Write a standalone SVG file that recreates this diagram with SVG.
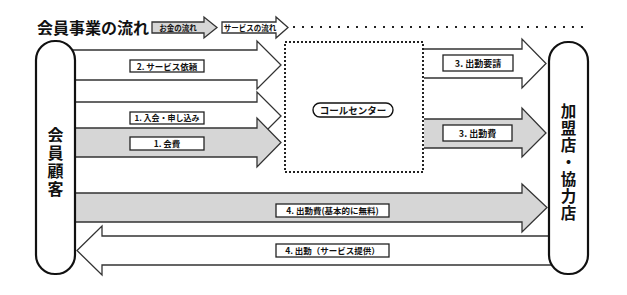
<svg xmlns="http://www.w3.org/2000/svg" width="627" height="295" viewBox="0 0 627 295">
<style>
.t{font-family:"Noto Sans CJK JP","Noto Sans",sans-serif;font-weight:bold;fill:#111}
.v{writing-mode:vertical-rl;text-orientation:upright}
.aw{fill:#fff;stroke:#333;stroke-width:1.3}
.ag{fill:#d6d6d6;stroke:#333;stroke-width:1.3}
.lb{fill:#fff;stroke:#222;stroke-width:1.3}
.pill{fill:#fff;stroke:#111;stroke-width:2.2}
</style>
<rect width="627" height="295" fill="#fff"/>
<g id="title">
<text class="t" x="37" y="34" font-size="16">会員事業の流れ</text>
</g>
<g id="legend">
<path class="ag" d="M152,22 H204 V17 L217,27.5 L204,38 V33 H152 Z"/>
<text class="t" x="178" y="30.5" font-size="7.5" text-anchor="middle">お金の流れ</text>
<path class="aw" d="M222,22 H276 V17 L288,27.5 L276,38 V33 H222 Z"/>
<text class="t" x="250" y="30.5" font-size="7.5" text-anchor="middle">サービスの流れ</text>
<line x1="293" y1="27" x2="590" y2="27" stroke="#222" stroke-width="2.2" stroke-dasharray="2 7"/>
</g>
<g id="connectors">
<path class="aw" d="M60,50 H257 V41 L281,65 L257,89 V80 H60"/>
<path class="aw" d="M60,102 H257 V92 L281,116 L257,140 V130 H60"/>
<path class="ag" d="M60,128 H257 V118 L281,142.5 L257,167 V157 H60"/>
<path class="aw" d="M424,49 H522 V39 L546,63.5 L522,88 V78 H424"/>
<path class="ag" d="M424,119 H522 V108 L546,133 L522,157 V148 H424"/>
<path class="ag" d="M60,193 H522 V184 L547,207.5 L522,232 V222 H60"/>
<path class="aw" d="M565,236 H102 V226 L77,250.5 L102,275 V265 H565"/>
</g>
<g id="labels">
<rect class="lb" x="130" y="60" width="74" height="12"/>
<text class="t" x="167" y="69.5" font-size="8.5" text-anchor="middle">2. サービス依頼</text>
<rect class="lb" x="130" y="112" width="74" height="12"/>
<text class="t" x="167" y="121.2" font-size="8" text-anchor="middle">1. 入会・申し込み</text>
<rect class="lb" x="130" y="137" width="74" height="13"/>
<text class="t" x="167" y="146.8" font-size="8.5" text-anchor="middle">1. 会費</text>
<rect class="lb" x="443" y="55" width="70" height="16"/>
<text class="t" x="478" y="66.5" font-size="9" text-anchor="middle">3. 出動要請</text>
<rect class="lb" x="443" y="125" width="69" height="16"/>
<text class="t" x="477.5" y="136.5" font-size="9" text-anchor="middle">3. 出動費</text>
<rect class="lb" x="276" y="204" width="113" height="13"/>
<text class="t" x="332.5" y="214" font-size="8.5" text-anchor="middle">4. 出動費(基本的に無料)</text>
<rect class="lb" x="276" y="244" width="113" height="13"/>
<text class="t" x="332.5" y="254" font-size="8.5" text-anchor="middle">4. 出動（サービス提供）</text>
</g>
<g id="callcenter">
<rect x="285" y="42" width="138" height="130" fill="none" stroke="#222" stroke-width="2" stroke-dasharray="2 2"/>
<rect x="313" y="103" width="80" height="14" rx="7" fill="#fff" stroke="#111" stroke-width="1.4"/>
<text class="t" x="353" y="113.5" font-size="9.5" text-anchor="middle">コールセンター</text>
</g>
<g id="member">
<rect class="pill" x="36" y="41" width="39" height="233" rx="19"/>
<text class="t v" x="55.5" y="127" font-size="16" letter-spacing="2">会員顧客</text>
</g>
<g id="partner">
<rect class="pill" x="549" y="42" width="39" height="232" rx="19"/>
<text class="t v" x="568.5" y="103" font-size="15.5" letter-spacing="1.5">加盟店・協力店</text>
</g>
</svg>
